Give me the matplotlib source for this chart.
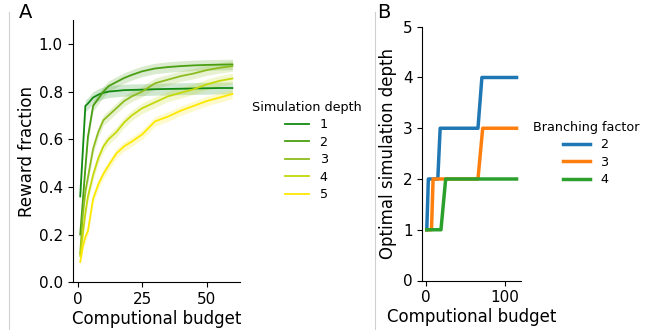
import numpy as np
import matplotlib
matplotlib.use("Agg")
import matplotlib.pyplot as plt
from matplotlib.lines import Line2D

# ── Panel A data: reward fraction vs computational budget ────────────────────
BUDGET = [1, 2, 3, 4, 6, 8, 10, 12, 15, 18, 21, 25, 30, 35, 40, 45, 50, 55, 60]
DEPTHS = ["1", "2", "3", "4", "5"]
REWARD = {
    "1": [0.36, 0.55, 0.74, 0.75, 0.775, 0.787, 0.795, 0.800, 0.803, 0.806,
          0.807, 0.808, 0.810, 0.811, 0.812, 0.813, 0.814, 0.815, 0.815],
    "2": [0.20, 0.34, 0.48, 0.61, 0.74, 0.77, 0.80, 0.823, 0.84, 0.857,
          0.870, 0.885, 0.897, 0.903, 0.907, 0.910, 0.912, 0.913, 0.914],
    "3": [0.12, 0.28, 0.38, 0.44, 0.56, 0.63, 0.68, 0.70, 0.73, 0.76,
          0.78, 0.80, 0.835, 0.850, 0.865, 0.876, 0.890, 0.900, 0.907],
    "4": [0.11, 0.20, 0.29, 0.36, 0.45, 0.52, 0.57, 0.60, 0.63, 0.67,
          0.70, 0.73, 0.755, 0.780, 0.795, 0.810, 0.830, 0.845, 0.855],
    "5": [0.085, 0.15, 0.19, 0.215, 0.35, 0.41, 0.455, 0.49, 0.54, 0.57,
          0.59, 0.62, 0.675, 0.695, 0.720, 0.740, 0.760, 0.775, 0.790],
}
CI_HALF = {"1": 0.025, "2": 0.022, "3": 0.022, "4": 0.022, "5": 0.02}
DEPTH_COLORS = {"1": "#128a12", "2": "#4a9f12", "3": "#8cbd1e",
                "4": "#c4d80a", "5": "#fde800"}

# ── Panel B data: optimal simulation depth vs computational budget ───────────
BRANCHING = ["2", "3", "4"]
OPT_BUDGET = {
    "2": [1, 3, 15, 18, 66, 71, 115],
    "3": [1, 7, 9, 66, 72, 115],
    "4": [1, 19, 25, 115],
}
OPT_DEPTH = {
    "2": [1, 2, 2, 3, 3, 4, 4],
    "3": [1, 1, 2, 2, 3, 3],
    "4": [1, 1, 2, 2],
}
BRANCH_COLORS = {"2": "#1f77b4", "3": "#ff7f0e", "4": "#2ca02c"}


def style_axes(ax):
    for side in ("top", "right"):
        ax.spines[side].set_visible(False)
    ax.tick_params(labelsize=11, length=3.5)


fig = plt.figure(figsize=(6.54, 3.30), dpi=100)

# Panel A
axA = fig.add_axes([0.111, 0.145, 0.256, 0.794])
x = np.array(BUDGET)
for d in DEPTHS:
    y = np.array(REWARD[d])
    c = DEPTH_COLORS[d]
    axA.fill_between(x, y - CI_HALF[d], y + CI_HALF[d], color=c, alpha=0.2, lw=0)
    axA.plot(x, y, color=c, lw=1.3, label=d)
axA.set_ylim(0, 1.1)
axA.set_yticks([0.0, 0.2, 0.4, 0.6, 0.8, 1.0])
axA.set_xticks([0, 25, 50])
axA.set_xlabel("Computional budget", fontsize=12, labelpad=2)
axA.set_ylabel("Reward fraction", fontsize=12, labelpad=2)
style_axes(axA)
axA.legend(title="Simulation depth", loc="center left", bbox_to_anchor=(1.0, 0.5),
           frameon=False, fontsize=9.2, title_fontsize=9.2, handlelength=1.9,
           labelspacing=0.35)

# Panel B
axB = fig.add_axes([0.6457, 0.15, 0.151, 0.769])
for b in BRANCHING:
    axB.plot(OPT_BUDGET[b], OPT_DEPTH[b], color=BRANCH_COLORS[b], lw=2.5, label=b)
axB.set_ylim(0, 5)
axB.set_yticks(range(6))
axB.set_xticks([0, 100])
axB.set_xlabel("Computional budget", fontsize=12, labelpad=2)
axB.set_ylabel("Optimal simulation depth", fontsize=12, labelpad=4)
style_axes(axB)
axB.legend(title="Branching factor", loc="center left", bbox_to_anchor=(1.0, 0.5),
           frameon=False, fontsize=9.2, title_fontsize=9.2, handlelength=2.1,
           labelspacing=0.35)

# Panel letters and separators
fig.text(0.029, 0.99, "A", fontsize=14, va="top", ha="left")
fig.text(0.576, 0.99, "B", fontsize=14, va="top", ha="left")
for xs in (0.0142, 0.573):
    fig.add_artist(Line2D([xs, xs], [0.0, 0.965], transform=fig.transFigure,
                          color="#d0d0d0", lw=0.8))

fig.savefig("out.png", dpi=100)
